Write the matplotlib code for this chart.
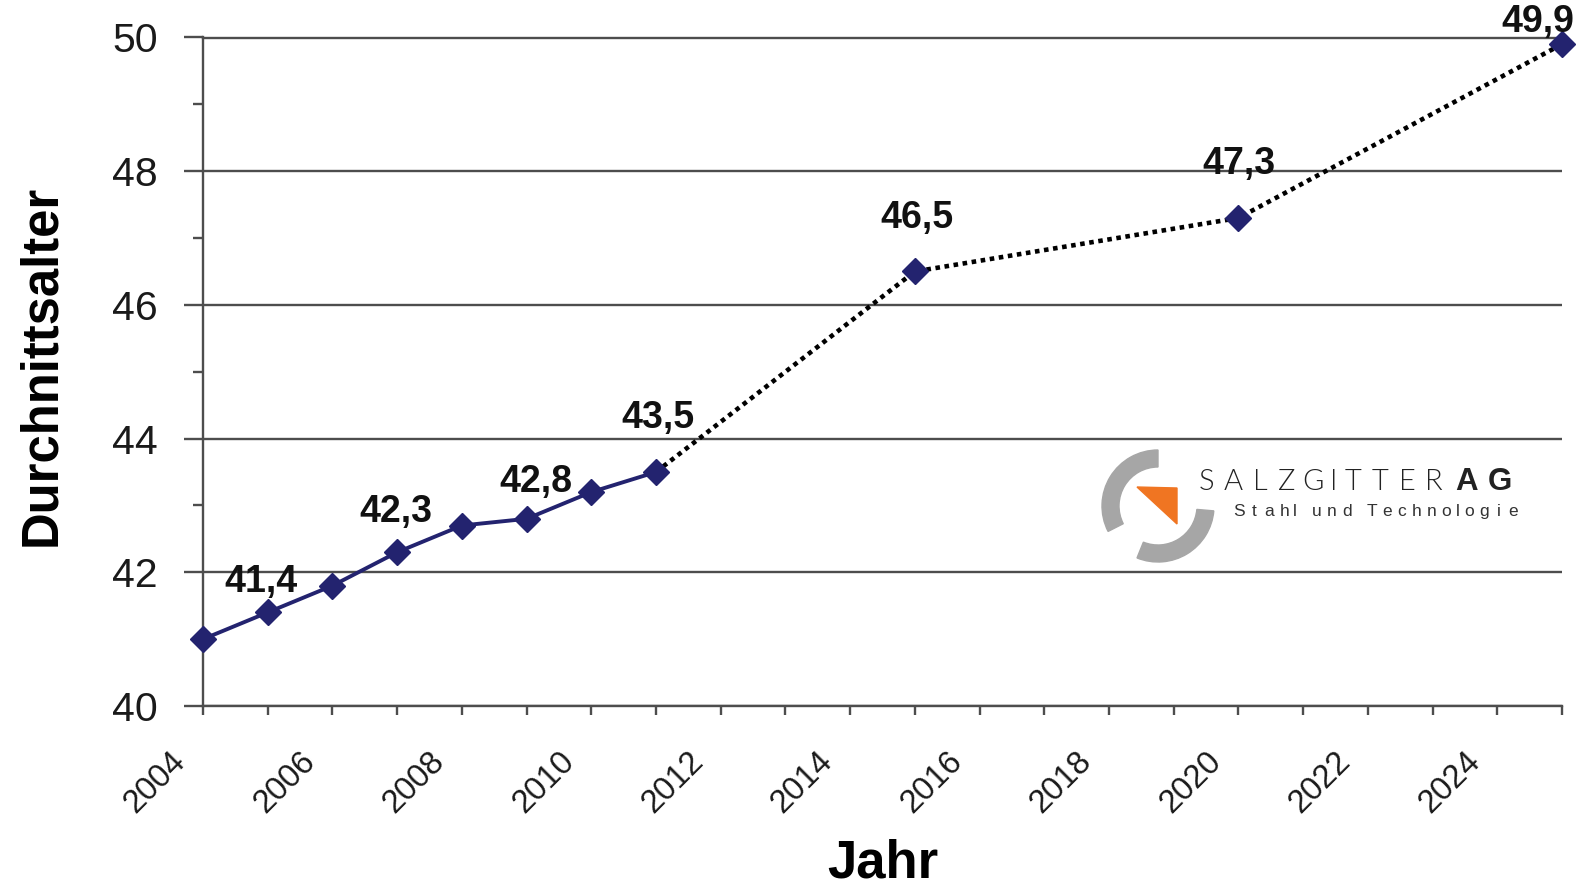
import matplotlib
matplotlib.use('Agg')
import matplotlib.pyplot as plt
import matplotlib.transforms as mtransforms
from matplotlib.patches import Wedge, Polygon

plt.rcParams['font.family'] = ['Liberation Sans', 'DejaVu Sans']

# Daten: Durchschnittsalter der Belegschaft
jahre_ist = [2004, 2005, 2006, 2007, 2008, 2009, 2010, 2011]
alter_ist = [41.0, 41.4, 41.8, 42.3, 42.7, 42.8, 43.2, 43.5]
jahre_prognose = [2011, 2015, 2020, 2025]
alter_prognose = [43.5, 46.5, 47.3, 49.9]
beschriftete_jahre = [2005, 2007, 2009, 2011, 2015, 2020, 2025]

navy = '#23236f'
grau = '#4d4d4d'

W, H = 1589, 886
fig = plt.figure(figsize=(W / 100, H / 100), dpi=100)
ax = fig.add_axes([203 / W, 1 - 706 / H, (1562 - 203) / W, (706 - 37.5) / H])

# Prognose gepunktet, Ist-Werte durchgezogen
ax.plot(jahre_prognose, alter_prognose, color='black', lw=3.3,
        linestyle=(0, (1, 1.0)), dash_capstyle='butt', zorder=3)
ax.plot(jahre_ist, alter_ist, color=navy, lw=2.8, zorder=4)
alle_jahre = jahre_ist + jahre_prognose[1:]
alle_werte = alter_ist + alter_prognose[1:]
ax.plot(alle_jahre, alle_werte, 'D', color=navy, ms=13.5, zorder=5, clip_on=False)

# Beschriftungen (Versatz in Pixel)
versatz = {2005: (-7, 30), 2007: (-1, 40), 2009: (9, 37), 2011: (2, 54),
           2015: (2, 53), 2020: (1, 54), 2025: (-24, 22)}
for j, v in zip(alle_jahre, alle_werte):
    if j in beschriftete_jahre:
        dx, dy = versatz[j]
        ax.annotate(f'{v:.1f}'.replace('.', ','), (j, v),
                    xytext=(dx / 1.389, dy / 1.389), textcoords='offset points',
                    ha='center', va='center', fontsize=27, fontweight='bold',
                    color='#111111', zorder=6, annotation_clip=False)

ax.set_xlim(2004, 2025)
ax.set_ylim(40, 50)
ax.set_yticks(range(40, 51, 2))
ax.set_yticks(range(41, 50, 2), minor=True)
jahre_ticks = list(range(2004, 2026))
ax.set_xticks(jahre_ticks)
ax.set_xticklabels([str(j) if j % 2 == 0 else '' for j in jahre_ticks])

ax.yaxis.grid(True, which='major', color=grau, lw=1.7)
ax.set_axisbelow(True)
for s in ['left', 'bottom', 'top']:
    ax.spines[s].set_color(grau)
    ax.spines[s].set_linewidth(1.7)
ax.spines['right'].set_visible(False)

ax.tick_params(axis='y', which='major', length=13.7, width=1.7, color=grau,
               pad=18.7, labelsize=29.5, labelcolor='#1a1a1a')
ax.tick_params(axis='y', which='minor', length=7.2, width=1.7, color=grau)
ax.tick_params(axis='x', which='major', length=6.5, width=1.7, color=grau,
               pad=22, labelsize=23.5, labelcolor='#1a1a1a')

verschiebung = mtransforms.ScaledTranslation(-33 / 100, 0, fig.dpi_scale_trans)
for lab in ax.get_xticklabels():
    lab.set_rotation(45)
    lab.set_ha('right')
    lab.set_va('top')
    lab.set_rotation_mode('anchor')
    lab.set_transform(lab.get_transform() + verschiebung)

ax.set_xlabel('Jahr', fontsize=38, fontweight='bold', va='baseline')
ax.xaxis.set_label_coords(0.5, (706 - 878) / 668.5)
ax.set_ylabel('Durchnittsalter', fontsize=36.5, fontweight='bold', va='center')
ax.yaxis.set_label_coords(-0.1190, 0.51)

# Logo
lax = fig.add_axes([1080 / W, 1 - 575 / H, 450 / W, 135 / H])
lax.set_xlim(1080, 1530)
lax.set_ylim(575, 440)
lax.axis('off')
lax.add_patch(Wedge((1158, 506), 56, -207, -90, width=17, color='#a6a6a6'))
lax.add_patch(Wedge((1158, 506), 56, 5, 112, width=17, color='#a6a6a6'))
lax.add_patch(Polygon([(1137, 487), (1177, 488), (1177, 524)], color='#f07522'))


def gesperrt(text, x0, x1, y, **kw):
    breiten = [0.5 if c in 'Il' else (0.7 if c == ' ' else 1.0) for c in text]
    einheit = (x1 - x0) / sum(breiten)
    x = x0
    for c, b in zip(text, breiten):
        lax.text(x + b * einheit / 2, y, c, ha='center', va='baseline', **kw)
        x += b * einheit


gesperrt('SALZGITTER', 1193, 1447, 490, fontsize=21, color='#222222',
         family=['Lato', 'DejaVu Sans'], fontweight=300)
gesperrt('AG', 1450, 1516, 490, fontsize=22.5, color='#222222', fontweight='bold')
gesperrt('Stahl und Technologie', 1232, 1521, 516, fontsize=12.5, color='#333333')

fig.savefig('out.png', dpi=100, facecolor='white')
